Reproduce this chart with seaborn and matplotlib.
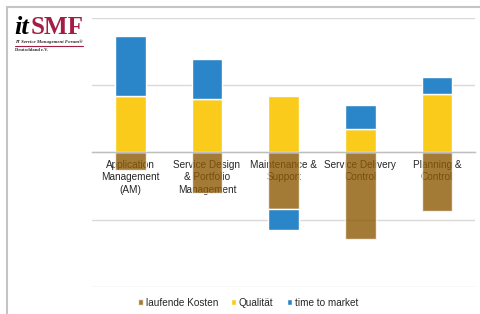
import numpy as np
import matplotlib
matplotlib.use("Agg")
import matplotlib.pyplot as plt
from matplotlib.lines import Line2D
import seaborn as sns

categories = ["Application\nManagement\n(AM)", "Service Design\n& Portfolio\nManagement",
              "Maintenance &\nSupport", "Service Delivery\nControl", "Planning &\nControl"]
kosten = [-0.26, -0.61, -0.84, -1.29, -0.87]
qualitaet = [0.84, 0.79, 0.84, 0.35, 0.87]
ttm = [0.89, 0.60, -0.31, 0.35, 0.25]

sns.set_style("white")
plt.rcParams["font.family"] = ["Liberation Sans", "DejaVu Sans"]

fig = plt.figure(figsize=(4.81, 3.14), dpi=100)
ax = fig.add_axes([0.191, 0.086, 0.797, 0.858])

# time to market stacks on qualitaet when positive, below kosten when negative
ttm_bottom = np.where(np.array(ttm) >= 0, qualitaet, kosten)

sns.barplot(x=categories, y=kosten, color="#8C5A05", alpha=0.8, width=0.4,
            saturation=1, errorbar=None, label="laufende Kosten", ax=ax)
sns.barplot(x=categories, y=qualitaet, color="#FACB1A", width=0.4,
            saturation=1, errorbar=None, label="Qualität", ax=ax)
sns.barplot(x=categories, y=ttm, bottom=ttm_bottom, color="#2A86C9", width=0.4,
            saturation=1, errorbar=None, label="time to market", ax=ax)

ax.set_xlim(-0.5, 4.5)
ax.set_ylim(-2, 2)
ax.set_yticks([-2, -1, 0, 1, 2])
ax.set_yticklabels([])
ax.tick_params(axis="y", length=0)
ax.grid(axis="y", color="#D9D9D9", linewidth=1)
ax.set_axisbelow(True)
for s in ["left", "right", "top"]:
    ax.spines[s].set_visible(False)
ax.spines["bottom"].set_position(("data", 0))
ax.spines["bottom"].set_color("#BFBFBF")
ax.spines["bottom"].set_linewidth(1)
ax.set_xticks(np.arange(-0.5, 5, 1), minor=True)
ax.tick_params(axis="x", which="minor", length=4, color="#BFBFBF", width=1)
ax.tick_params(axis="x", which="major", length=0, pad=5.5, labelsize=7.2, labelcolor="#262626")
for t in ax.get_xticklabels():
    t.set_linespacing(1.3)
ax.set_xlabel("")
ax.set_ylabel("")
if ax.get_legend():
    ax.get_legend().remove()

handles, labels = ax.get_legend_handles_labels()
fig.legend(handles, labels, loc="center", bbox_to_anchor=(0.515, 0.035), ncol=3,
           frameon=False, fontsize=7.2, handlelength=0.55, handleheight=0.55,
           handletextpad=0.25, columnspacing=1.3, labelcolor="#262626")

# outer frame
fig.add_artist(Line2D([0.0146, 0.0146], [0.0, 0.978], color="#C4C4C4", lw=1.5))
fig.add_artist(Line2D([0.0146, 1.0], [0.978, 0.978], color="#C4C4C4", lw=1.5))

# logo
fig.text(0.029, 0.893, "it", family="Liberation Serif", fontsize=19, fontweight="bold",
         style="italic", color="black", va="baseline")
fig.text(0.064, 0.893, "SMF", family="Liberation Serif", fontsize=18, fontweight="bold",
         color="#A31D45", va="baseline")
fig.text(0.031, 0.862, "IT Service Management Forum®", family="Liberation Serif",
         fontsize=3.5, fontweight="bold", style="italic", va="baseline")
fig.add_artist(Line2D([0.031, 0.173], [0.854, 0.854], color="#A31D45", lw=0.8))
fig.text(0.031, 0.837, "Deutschland e.V.", family="Liberation Serif",
         fontsize=3.3, fontweight="bold", va="baseline")

fig.savefig("out.png", dpi=100)
